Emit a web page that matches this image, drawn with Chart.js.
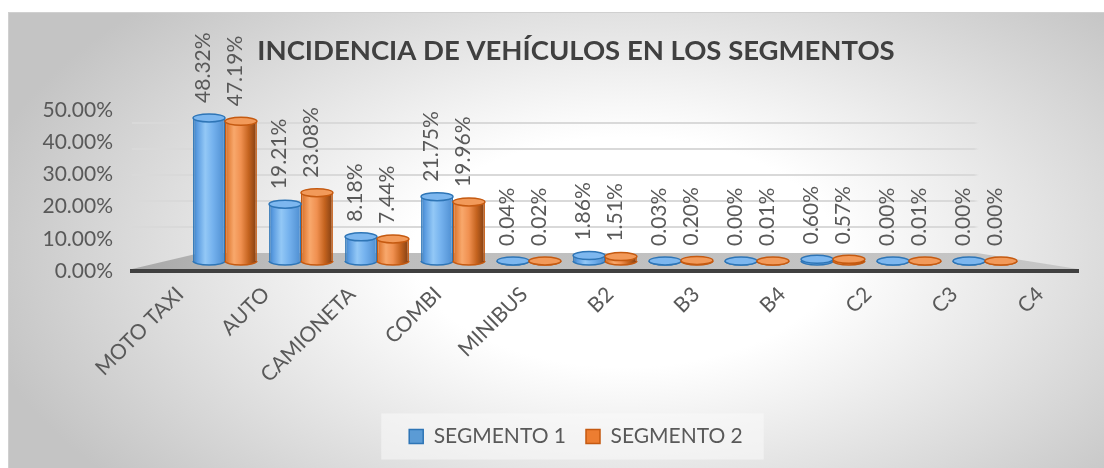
<!DOCTYPE html>
<html><head><meta charset="utf-8">
<script src="https://cdn.jsdelivr.net/npm/chart.js@4"></script>
<style>
html,body{margin:0;padding:0;width:1104px;height:468px;overflow:hidden;background:#fff;}
#bg{position:absolute;left:8px;top:12px;width:1100px;height:460px;border-top:1px solid #d0d0d0;border-left:1px solid #d0d0d0;
background: radial-gradient(ellipse 60% 78% at 56% 52%, #ffffff 32%, #c4c4c4 100%);}
canvas{position:absolute;left:0;top:0;}
</style></head><body>
<div id="bg"></div>
<canvas id="c" width="1104" height="468"></canvas>
<script>
// ---- data ----
const categories = ['MOTO TAXI','AUTO','CAMIONETA','COMBI','MINIBUS','B2','B3','B4','C2','C3','C4'];
const segmento1 = [0.4832,0.1921,0.0818,0.2175,0.0004,0.0186,0.0003,0.0000,0.0060,0.0000,0.0000];
const segmento2 = [0.4719,0.2308,0.0744,0.1996,0.0002,0.0151,0.0020,0.0001,0.0057,0.0001,0.0000];
const seriesNames = ['SEGMENTO 1','SEGMENTO 2'];
const yTickValues = [0,0.1,0.2,0.3,0.4,0.5];
const titleText = 'INCIDENCIA DE VEHÍCULOS EN LOS SEGMENTOS';

// ---- styles ----
const baseColors = ['#5b9bd5','#ed7d31'];
const borderColors = ['#2e75b6','#c55a11'];
const topColors = ['#7db7ef','#f29a5a'];
const gradStops = [
  [[0,'#3c7fc2'],[0.12,'#5a9be0'],[0.38,'#93c8f6'],[0.62,'#75b2ee'],[1,'#4d8dd0']],
  [[0,'#d86c22'],[0.28,'#f8a86c'],[0.5,'#f09050'],[0.74,'#c4631f'],[1,'#7f3d12']]
];
const pct = v => (Number(v)*100).toFixed(2) + '%';

function gridColor(ctx){
  if (!ctx.tick || ctx.tick.value === 0) return 'rgba(0,0,0,0)';
  const ca = ctx.chart.chartArea;
  if (!ca) return '#d9d9d9';
  const g = ctx.chart.ctx.createLinearGradient(ca.left, 0, ca.right, 0);
  g.addColorStop(0, '#d9d9d9'); g.addColorStop(0.89, '#d9d9d9'); g.addColorStop(0.895, 'rgba(217,217,217,0)'); g.addColorStop(1, 'rgba(217,217,217,0)');
  return g;
}

const deco = {
  id:'deco',
  beforeDraw(chart){
    const lg = chart.legend; if (!lg || !lg.legendHitBoxes || !lg.legendHitBoxes.length) return;
    const hb = lg.legendHitBoxes, last = hb[hb.length-1];
    const l = hb[0].left - 28, r = last.left + last.width + 21;
    const cy = hb[0].top + hb[0].height/2;
    const c = chart.ctx; c.save(); c.fillStyle = 'rgba(250,250,250,0.55)'; c.fillRect(l, cy-23, r-l, 46); c.restore();
  },
  beforeDatasetsDraw(chart){
    const ca = chart.chartArea, c = chart.ctx;
    const yTop = chart.scales.y2.getPixelForValue(0), yb = ca.bottom - 2;
    const g = c.createLinearGradient(ca.left,0,ca.right,0);
    g.addColorStop(0,'#a8a8a8'); g.addColorStop(0.15,'#bcbcbc'); g.addColorStop(1,'#c6c6c6');
    c.save(); c.beginPath(); c.moveTo(ca.left, yb); c.lineTo(ca.left+68, yTop); c.lineTo(ca.right-101, yTop); c.lineTo(ca.right, yb); c.closePath();
    c.fillStyle = g; c.fill(); c.restore();
    chart.data.datasets.forEach((ds, di) => {
      chart.getDatasetMeta(di).data.forEach(el => {
        const w = el.width, gr = c.createLinearGradient(el.x - w/2, 0, el.x + w/2, 0);
        gradStops[di].forEach(s => gr.addColorStop(s[0], s[1]));
        el.options.backgroundColor = gr;
      });
    });
  },
  afterDatasetsDraw(chart){
    const c = chart.ctx;
    chart.data.datasets.forEach((ds, di) => {
      const meta = chart.getDatasetMeta(di);
      meta.data.forEach((el, i) => {
        const rx = el.width/2, ry = 4;
        c.save();
        c.lineWidth = 1.5; c.strokeStyle = borderColors[di];
        c.beginPath(); c.ellipse(el.x, el.base, rx, ry, 0, 0, Math.PI); c.fillStyle = el.options.backgroundColor; c.fill(); c.stroke();
        c.beginPath(); c.ellipse(el.x, el.y, rx, ry, 0, 0, 2*Math.PI); c.fillStyle = topColors[di]; c.fill(); c.stroke();
        c.restore();
        c.save();
        c.font = '21px Lato'; c.fillStyle = '#595959'; c.textAlign = 'left'; c.textBaseline = 'middle';
        c.translate(el.x - 6, el.y - 15); c.rotate(-Math.PI/2);
        c.fillText(pct(ds.data[i].y), 0, 0);
        c.restore();
      });
    });
  }
};

function build(){
  Chart.defaults.font.family = 'Lato';
  const series = [segmento1, segmento2];
  new Chart(document.getElementById('c'), {
    type:'bar',
    data:{
      labels: categories,
      datasets: series.map((s, di) => ({
        label: seriesNames[di],
        data: s.map((v, i) => ({x:i, y:v})),
        xAxisID:'x', yAxisID:'y',
        backgroundColor: ctx => baseColors[di],
        borderColor: borderColors[di],
        borderWidth: 1.5,
        categoryPercentage: 0.84, barPercentage: 1
      }))
    },
    options:{
      responsive:false, animation:false, devicePixelRatio:1,
      layout:{padding:{left:8,right:-40,top:12,bottom:11}},
      plugins:{
        title:{display:true,text:titleText,color:'#404040',font:{size:27.5,weight:'bold'},padding:{top:23,bottom:42}},
        legend:{position:'bottom',labels:{color:'#595959',font:{size:21},boxWidth:14,boxHeight:14,padding:20}},
        tooltip:{enabled:false}
      },
      scales:{
        x:{type:'linear',display:false,offset:false,min:-1.2237,max:11.224,
           afterBuildTicks: s => { s.ticks = categories.map((_, i) => ({value:i})); }},
        x2:{type:'category',axis:'x',position:'bottom',offset:true,labels:categories,
           grid:{display:false,drawTicks:false},border:{display:true,color:'#404040',width:4},
           ticks:{color:'#595959',font:{size:21},minRotation:45,maxRotation:45,padding:11,labelOffset:5,autoSkip:false},
           afterFit: s => { s.height = 135; }},
        y:{type:'linear',display:false,min:-0.03356,max:0.51},
        y2:{type:'linear',position:'right',min:-0.0687,max:0.5496,
           afterBuildTicks: s => { s.ticks = yTickValues.map(v => ({value:v})); },
           ticks:{display:false},
           grid:{color: gridColor, lineWidth:2, drawTicks:false},
           border:{display:false},
           afterFit: s => { s.width = 66; }},
        y3:{type:'linear',position:'left',min:0,max:0.5,
           afterBuildTicks: s => { s.ticks = yTickValues.map(v => ({value:v})); },
           ticks:{callback: (v, i) => pct(yTickValues[i]), color:'#595959', font:{size:21}, padding:19},
           grid:{display:false,drawTicks:false},border:{display:false},
           afterFit: s => { s.width = 124; }}
      }
    },
    plugins:[deco]
  });
}
if (document.fonts && document.fonts.load) {
  Promise.all([document.fonts.load('21px Lato'), document.fonts.load('bold 27px Lato')]).then(build, build);
} else build();
</script>
</body></html>
